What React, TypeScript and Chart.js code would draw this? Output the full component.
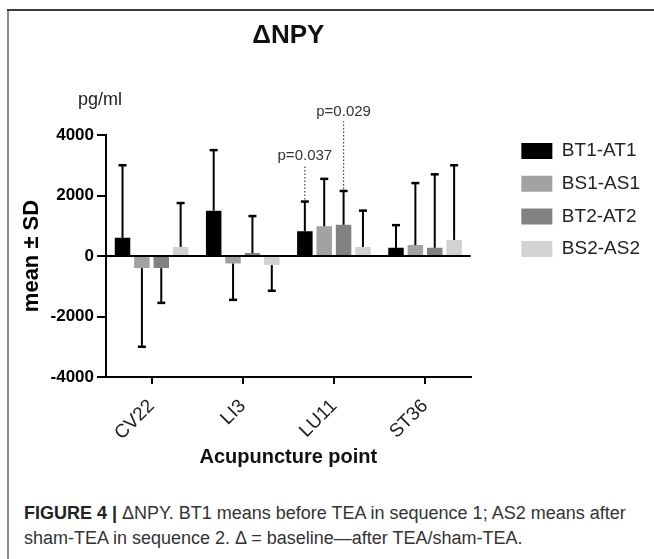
import React, { useEffect, useRef } from 'react';
import { Chart, registerables } from 'chart.js';

Chart.register(...registerables);

const categories = ['CV22', 'LI3', 'LU11', 'ST36'];
const seriesLabels = ['BT1-AT1', 'BS1-AS1', 'BT2-AT2', 'BS2-AS2'];
const seriesColors = ['#000000', '#a2a2a2', '#828282', '#d2d2d2'];

// means (pg/ml)
const bt1at1Mean = [600, 1500, 820, 270];
const bs1as1Mean = [-400, -250, 980, 360];
const bt2at2Mean = [-400, 100, 1030, 270];
const bs2as2Mean = [300, -300, 300, 530];

// standard deviations (pg/ml)
const bt1at1SD = [2400, 2000, 980, 750];
const bs1as1SD = [2600, 1200, 1570, 2050];
const bt2at2SD = [1150, 1220, 1120, 2430];
const bs2as2SD = [1450, 850, 1200, 2470];

const yMin = -4000;
const yMax = 4000;
const yStep = 2000;

const pLabels = ['p=0.037', 'p=0.029'];
const pCategories = ['LU11', 'LU11'];
const pSeries = [0, 2];
const pLevels = [3300, 4750];

const FONT = "'Liberation Sans', Arial, Helvetica, sans-serif";
const LEGEND_SHIFT = 37;

const means = [bt1at1Mean, bs1as1Mean, bt2at2Mean, bs2as2Mean];
const sds = [bt1at1SD, bs1as1SD, bt2at2SD, bs2as2SD];

const extrasPlugin = {
  id: 'extras',
  afterLayout(chart: any) {
    const lg = chart.legend;
    if (lg) {
      lg.left += LEGEND_SHIFT;
      lg.right += LEGEND_SHIFT;
    }
  },
  afterDatasetsDraw(chart: any) {
    const ctx = chart.ctx;
    const yScale = chart.scales.y;
    ctx.save();
    // error bars (one-sided, away from zero)
    chart.data.datasets.forEach((ds: any, i: number) => {
      const meta = chart.getDatasetMeta(i);
      meta.data.forEach((bar: any, j: number) => {
        const m = ds.data[j];
        const sd = ds.sd[j];
        const end = m >= 0 ? m + sd : m - sd;
        const yEnd = yScale.getPixelForValue(end);
        const yStart = yScale.getPixelForValue(m);
        ctx.strokeStyle = '#000';
        ctx.lineWidth = 2;
        ctx.beginPath();
        ctx.moveTo(bar.x, yStart);
        ctx.lineTo(bar.x, yEnd);
        ctx.stroke();
        ctx.lineWidth = 2.5;
        ctx.beginPath();
        ctx.moveTo(bar.x - 4, yEnd);
        ctx.lineTo(bar.x + 4, yEnd);
        ctx.stroke();
      });
    });
    // p-value annotations
    pLabels.forEach((label, k) => {
      const ci = categories.indexOf(pCategories[k]);
      const si = pSeries[k];
      const bar: any = chart.getDatasetMeta(si).data[ci];
      const m = means[si][ci];
      const end = m + sds[si][ci];
      const yEnd = yScale.getPixelForValue(end);
      const yText = yScale.getPixelForValue(pLevels[k]);
      ctx.strokeStyle = '#444';
      ctx.lineWidth = 1.2;
      ctx.setLineDash([1.5, 2]);
      ctx.beginPath();
      ctx.moveTo(bar.x, yEnd - 2);
      ctx.lineTo(bar.x, yText + 9);
      ctx.stroke();
      ctx.setLineDash([]);
      ctx.fillStyle = '#333';
      ctx.font = `15px ${FONT}`;
      ctx.textAlign = 'center';
      ctx.textBaseline = 'middle';
      ctx.fillText(label, bar.x, yText);
    });
    ctx.restore();
  },
  afterDraw(chart: any) {
    const ctx = chart.ctx;
    const area = chart.chartArea;
    ctx.save();
    ctx.fillStyle = '#222';
    ctx.font = `18px ${FONT}`;
    ctx.textAlign = 'left';
    ctx.textBaseline = 'middle';
    ctx.fillText('pg/ml', area.left - 28, area.top - 35);
    ctx.restore();
  },
};

function App() {
  const canvasRef = useRef<HTMLCanvasElement | null>(null);

  useEffect(() => {
    if (!canvasRef.current) return;
    const chart = new Chart(canvasRef.current, {
      type: 'bar',
      data: {
        labels: categories,
        datasets: seriesLabels.map((label, i) => ({
          label,
          data: means[i],
          sd: sds[i],
          yAxisID: 'y',
          backgroundColor: seriesColors[i],
          borderWidth: 0,
          barPercentage: 0.8,
          categoryPercentage: 0.85,
        })) as any,
      },
      options: {
        responsive: false,
        animation: false,
        layout: { padding: { left: 0, right: 4 + LEGEND_SHIFT, top: 0, bottom: 0 } },
        plugins: {
          title: {
            display: true,
            text: 'ΔNPY',
            fullSize: false,
            color: '#111',
            font: { family: FONT, size: 26, weight: 'bold', lineHeight: 1.2 },
            padding: { top: 20.4, bottom: 83.4 },
          },
          legend: {
            display: true,
            position: 'right',
            align: 'start',
            title: {
              display: true,
              text: '',
              font: { size: 10, lineHeight: 1.2 },
              padding: { top: 0, bottom: 115.8 },
            },
            labels: {
              boxWidth: 31,
              boxHeight: 16,
              padding: 13.7,
              color: '#222',
              font: { family: FONT, size: 19 },
            },
          },
          tooltip: { enabled: false },
        },
        scales: {
          x: {
            grid: {
              display: true,
              drawOnChartArea: false,
              offset: false,
              color: '#000',
              tickColor: '#000',
              tickLength: 7,
              tickWidth: 2,
              lineWidth: 2,
            },
            border: { display: true, color: '#000', width: 2 },
            ticks: {
              color: '#222',
              font: { family: FONT, size: 19 },
              minRotation: 45,
              maxRotation: 45,
              padding: 11,
              autoSkip: false,
            },
            title: {
              display: true,
              text: 'Acupuncture point',
              color: '#111',
              font: { family: FONT, size: 20, weight: 'bold', lineHeight: 1.2 },
              padding: { top: 0, bottom: 11 },
            },
            afterFit: (s: any) => {
              s.height = 103;
            },
          },
          y: {
            min: yMin,
            max: yMax,
            ticks: {
              stepSize: yStep,
              color: '#000',
              font: { family: FONT, size: 17, weight: 'bold' },
              padding: 3,
              callback: (v: any) => String(v),
            },
            grid: {
              color: (c: any) => (c.tick && c.tick.value === 0 ? '#000' : 'rgba(0,0,0,0)'),
              lineWidth: 2,
              tickColor: '#000',
              tickLength: 9,
              tickWidth: 2,
            },
            border: { display: true, color: '#000', width: 2 },
            title: {
              display: true,
              text: 'mean ± SD',
              color: '#000',
              font: { family: FONT, size: 22, weight: 'bold', lineHeight: 1.2 },
              padding: { top: 19, bottom: 0 },
            },
            afterFit: (s: any) => {
              s.width = 106;
            },
          },
        },
      } as any,
      plugins: [extrasPlugin],
    });
    return () => chart.destroy();
  }, []);

  return (
    <div
      style={{
        position: 'absolute',
        left: 0,
        top: 0,
        width: 654,
        height: 559,
        background: '#fff',
        overflow: 'hidden',
        fontFamily: FONT,
      }}
    >
      <canvas
        ref={canvasRef}
        width={654}
        height={480}
        style={{ position: 'absolute', left: 0, top: 0, width: 654, height: 480 }}
      />
      <div style={{ position: 'absolute', left: 7, top: 9, width: 2, height: 550, background: '#8a8a8a' }} />
      <div style={{ position: 'absolute', left: 7, top: 9, width: 647, height: 2, background: '#3a3a3a' }} />
      <div
        style={{
          position: 'absolute',
          left: 24,
          top: 501,
          width: 630,
          fontSize: 18,
          lineHeight: '25px',
          color: '#333',
          whiteSpace: 'nowrap',
        }}
      >
        <b style={{ color: '#222' }}>FIGURE 4 |</b> ΔNPY. BT1 means before TEA in sequence 1; AS2 means after
        <br />
        sham-TEA in sequence 2. Δ = baseline—after TEA/sham-TEA.
      </div>
    </div>
  );
}

export default App;
